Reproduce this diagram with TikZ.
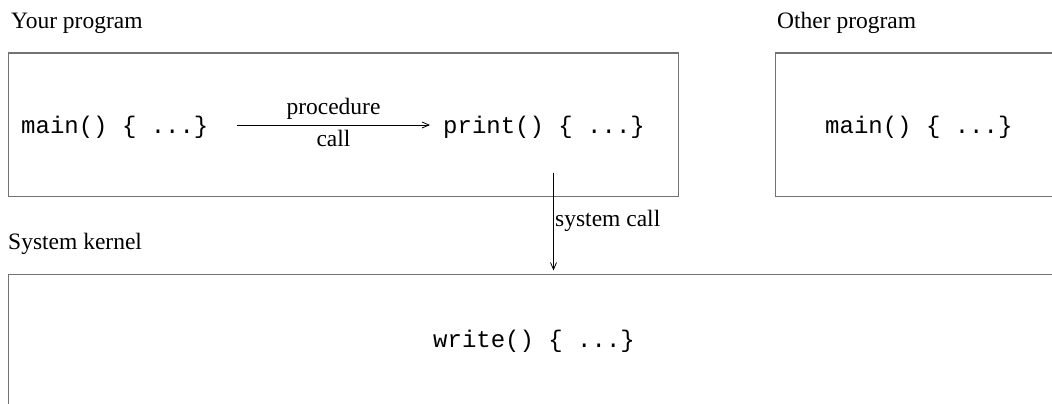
\documentclass[tikz,border=0pt]{standalone}
\usepackage{fontspec}
\setmainfont{Liberation Serif}
\setmonofont{Liberation Mono}
\usetikzlibrary{arrows.meta}
\begin{document}
\begin{tikzpicture}[x=1pt,y=-1pt,
  box/.style={draw=black!55, line width=1.2pt, inner sep=0pt, anchor=north west},
  lbl/.style={inner sep=0pt, anchor=base west, font=\fontsize{23.5}{28}\selectfont},
  code/.style={inner sep=0pt, anchor=base west, font=\fontsize{24}{28}\selectfont\ttfamily},
  arr/.style={draw=black, line width=0.8pt, -{Straight Barb[length=7pt,width=6pt]}}]
\clip (0,0) rectangle (1052,404);
\fill[white] (0,0) rectangle (1052,404);
% boxes
\node[box, minimum width=670.5pt, minimum height=143.5pt] (yp) at (7.5,52.5) {};
\node[box, minimum width=400pt, minimum height=143.5pt] (op) at (775,52.5) {};
\node[box, minimum width=1100pt, minimum height=200pt] (kern) at (7.5,274) {};
% titles
\node[lbl] (tyour) at (11,29) {Your program};
\node[lbl] (tother) at (777,29) {Other program};
\node[lbl] (tkern) at (8,249) {System kernel};
% code texts
\node[code] (main) at (21,133) {main() \{ ...\}};
\node[code] (print) at (443,133) {print() \{ ...\}};
\node[code] (omain) at (825,133) {main() \{ ...\}};
\node[code] (write) at (433,347) {write() \{ ...\}};
% procedure call
\coordinate (pa) at (237,125);
\coordinate (pb) at (430,125);
\draw[arr] (pa) -- (pb);
\node[lbl, anchor=base] (proc) at (333.5,114) {procedure};
\node[lbl, anchor=base] (call) at (333.5,146) {call};
% system call
\coordinate (sc) at (553.5,172.5);
\draw[arr] (sc) -- ([yshift=3.5pt]sc |- kern.north);
\node[lbl] (scl) at (555,226) {system call};
\end{tikzpicture}
\end{document}
